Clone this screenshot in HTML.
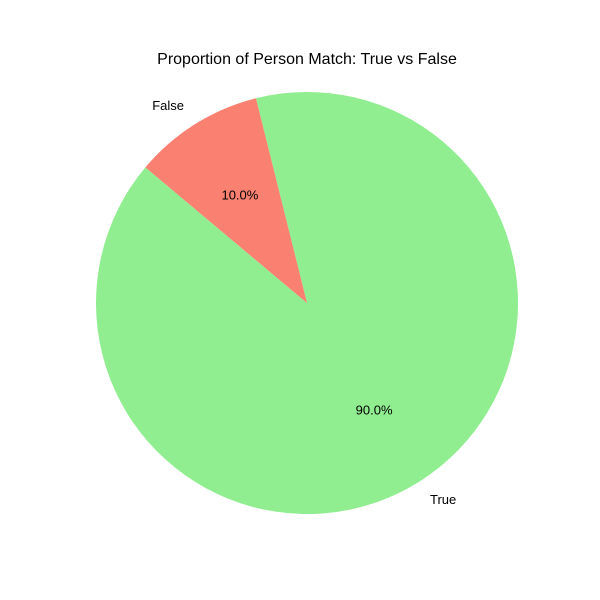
<!DOCTYPE html>
<html><head><meta charset="utf-8"><style>body{margin:0;background:#fff}svg{display:block}text{font-family:"Liberation Sans","DejaVu Sans",sans-serif}</style></head>
<body>
<svg id="chart" width="600" height="600" viewBox="0 0 600 600">
<text x="307" y="64" font-size="16" text-anchor="middle">Proportion of Person Match: True vs False</text>
<g id="slices"></g>
</svg>
<script>
const categories = ["True", "False"];
const values = [90, 10];
const colors = ["#90ee90", "#fa8072"];
const cx = 307, cy = 303, r = 211, startAngle = 140;
const ns = "http://www.w3.org/2000/svg";
const g = document.getElementById("slices");
const total = values.reduce((a, b) => a + b, 0);
function pt(deg, rad) { const a = deg * Math.PI / 180; return [cx + rad * Math.cos(a), cy - rad * Math.sin(a)]; }
let ang = startAngle;
values.forEach((v, i) => {
  const sweep = v / total * 360;
  const a0 = ang, a1 = ang + sweep;
  const p0 = pt(a0, r), p1 = pt(a1, r);
  const large = sweep > 180 ? 1 : 0;
  const path = document.createElementNS(ns, "path");
  path.setAttribute("d", `M${cx},${cy} L${p0[0]},${p0[1]} A${r},${r} 0 ${large} 0 ${p1[0]},${p1[1]} Z`);
  path.setAttribute("fill", colors[i]);
  
  
  g.appendChild(path);
  const mid = (a0 + a1) / 2;
  const lp = pt(mid, r * 1.1);
  const lab = document.createElementNS(ns, "text");
  lab.setAttribute("x", lp[0]); lab.setAttribute("y", lp[1] + 4);
  lab.setAttribute("font-size", "13");
  lab.setAttribute("text-anchor", Math.cos(mid * Math.PI / 180) >= 0 ? "start" : "end");
  lab.textContent = categories[i];
  
  
  g.appendChild(lab);
  const pp = pt(mid, r * 0.6);
  const pct = document.createElementNS(ns, "text");
  pct.setAttribute("x", pp[0]); pct.setAttribute("y", pp[1] + 4);
  pct.setAttribute("font-size", "13");
  pct.setAttribute("text-anchor", "middle");
  pct.textContent = (v / total * 100).toFixed(1) + "%";
  
  
  g.appendChild(pct);
  ang = a1;
});
</script>
</body></html>
